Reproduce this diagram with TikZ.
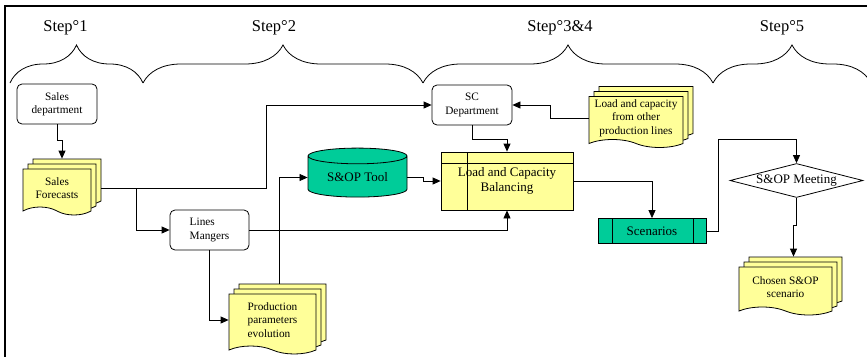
\documentclass[tikz,border=0pt]{standalone}
\usepackage{fontspec}
\setmainfont{Liberation Serif}
\usetikzlibrary{arrows.meta,shapes.geometric,shapes.symbols,shadows,decorations.pathreplacing}
\definecolor{docyellow}{RGB}{255,255,153}
\definecolor{toolgreen}{RGB}{0,204,153}
\newcommand{\boxfont}{\fontsize{11.3}{13.3}\selectfont}
\newcommand{\midfont}{\fontsize{13}{15}\selectfont}
\newcommand{\stepfont}{\fontsize{16.5}{18}\selectfont}
\tikzset{
  dept/.style={draw, rounded corners=5pt, fill=white, minimum width=80pt, minimum height=40pt, inner sep=1pt, align=center, font=\boxfont},
  docs/.style={tape, tape bend top=none, tape bend bottom=out and in, tape bend height=8pt, draw, fill=docyellow, inner sep=1pt, align=center, font=\boxfont,
    copy shadow={shadow xshift=10pt, shadow yshift=10pt, draw=black, fill=docyellow, line width=0.8pt},
    copy shadow={shadow xshift=5pt, shadow yshift=5pt, draw=black, fill=docyellow, line width=0.8pt}},
  toolbox/.style={cylinder, shape border rotate=90, aspect=0.25, draw, fill=toolgreen, minimum width=99pt, minimum height=49pt, inner sep=1pt, font=\midfont},
  balance/.style={draw, fill=docyellow, minimum width=132pt, minimum height=58pt, inner sep=1pt, align=center, font=\midfont,
    path picture={\draw ([yshift=-11pt]path picture bounding box.north west) -- ([yshift=-11pt]path picture bounding box.north east)
      ([xshift=26pt]path picture bounding box.north west) -- ([xshift=26pt]path picture bounding box.south west);}},
  scen/.style={draw, fill=toolgreen, minimum width=108pt, minimum height=25pt, inner sep=1pt, font=\midfont,
    path picture={\draw ([xshift=14pt]path picture bounding box.north west) -- ([xshift=14pt]path picture bounding box.south west)
      ([xshift=-13pt]path picture bounding box.north east) -- ([xshift=-13pt]path picture bounding box.south east);}},
  meet/.style={diamond, draw, fill=white, aspect=3.9, minimum width=133pt, minimum height=34pt, inner sep=0pt, font=\midfont},
  steplabel/.style={font=\stepfont, inner sep=0pt}
}
\begin{document}
\begin{tikzpicture}[x=1pt, y=-1pt, line width=0.8pt, >={Triangle[length=8pt,width=7pt]}]
\useasboundingbox (0,0) rectangle (867,356);
\draw[line width=2.5pt] (5,6) rectangle (900,400);
% steps
\node[steplabel] (s1) at (65.5,28) {Step°1};
\node[steplabel] (s2) at (274,28) {Step°2};
\node[steplabel] (s3) at (560,28) {Step°3\&4};
\node[steplabel] (s5) at (782,28) {Step°5};
\draw[decorate, decoration={brace, amplitude=38pt}] (10,83) -- (143,83);
\draw[decorate, decoration={brace, amplitude=38pt}] (143,83) -- (423,83);
\draw[decorate, decoration={brace, amplitude=38pt}] (423,83) -- (713,83);
\draw[decorate, decoration={brace, amplitude=38pt}] (713,83) -- (871,83);
% boxes
\node[dept] (sd) at (57,104) {Sales\\department};
\node[dept] (scd) at (472,105) {SC\\Department};
\node[dept, minimum width=79pt, align=left] (lm) at (209.5,230) {Lines\\Mangers};
\node[docs, minimum width=68pt, minimum height=46pt] (sf) at (57,188) {Sales\\Forecasts};
\node[docs, minimum width=87pt, minimum height=60pt, align=left] (pp) at (272.5,320) {Production\\parameters\\evolution};
\node[docs, minimum width=94pt, minimum height=51pt] (lco) at (636,118) {Load and capacity\\from other\\production lines};
\node[docs, minimum width=93pt, minimum height=48pt] (ch) at (785.5,287) {Chosen S\&OP\\scenario};
\node[toolbox] (tool) at (357.5,177.5) {S\&OP Tool};
\node[balance] (lcb) at (507,181) {Load and Capacity\\Balancing};
\node[scen] (sc) at (652,231) {Scenarios};
\node[meet] (mt) at (796.5,180.5) {S\&OP Meeting};
% connectors
\draw[->] (sd.south) -- ++(0,16) -| ([xshift=5pt,yshift=10pt]sf.north);
\draw[->] ([xshift=10pt]sf.east) -| (266,0 |- scd.west) -- (scd.west);
\draw[->] (136,0 |- sf.east) |- (lm.west);
\draw[->] (lm.south) |- (pp.west);
\draw[->] (lm.east) -| (lcb.south);
\draw[->] ([xshift=7pt,yshift=10pt]pp.north) |- (tool.west);
\draw[->] (tool.east) -- ++(16,0) |- (lcb.west);
\draw[->] (scd.south) -- ++(0,14) -| (lcb.north);
\draw[->] (lco.west) -- ++(-38,0) |- (scd.east);
\draw[->] (lcb.east) -| (sc.north);
\draw[->] (sc.east) -- ++(12,0) -- ++(0,-92) -| (mt.north);
\draw[->] (mt.south) -- ++(0,27) -| ([xshift=8pt,yshift=10pt]ch.north);
\end{tikzpicture}
\end{document}
